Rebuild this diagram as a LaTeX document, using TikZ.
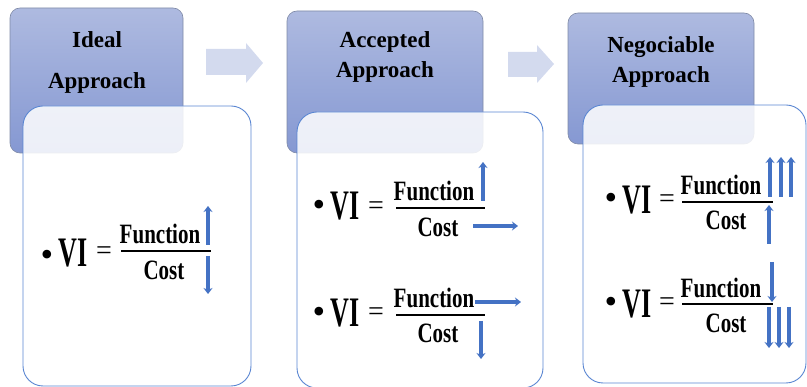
\documentclass[tikz,border=0pt]{standalone}
\usepackage{fontspec}
\usepackage{graphicx}
\setmainfont{Liberation Serif}
\usetikzlibrary{arrows.meta}
\definecolor{hdtop}{HTML}{AEBAE0}
\definecolor{hdbot}{HTML}{8598D2}
\definecolor{hdline}{HTML}{7F8AA6}
\definecolor{bxline}{HTML}{5A86D2}
\definecolor{arr}{HTML}{4472C4}
\definecolor{blk}{HTML}{D3DAEE}
\newcommand{\cnd}[1]{\scalebox{0.75}[1]{#1}}
\tikzset{
  header/.style={draw=hdline, line width=0.6pt, rounded corners=10pt, top color=hdtop, bottom color=hdbot},
  card/.style={draw=bxline, line width=0.9pt, rounded corners=20pt, fill=white, fill opacity=0.85},
  htext/.style={font=\fontsize{23}{30}\selectfont\bfseries, align=center, inner sep=0pt},
  ftext/.style={font=\fontsize{28}{28}\selectfont\bfseries, inner sep=0pt},
  vitext/.style={font=\fontsize{42}{42}\selectfont\bfseries, inner sep=0pt},
  eqtext/.style={font=\fontsize{28}{28}\selectfont, inner sep=0pt},
  bultext/.style={font=\fontsize{36}{36}\selectfont, inner sep=0pt},
  varrow/.style={draw=arr, line width=3.4pt, -{Stealth[length=6pt,width=9pt]}},
  fbar/.style={line width=1.8pt},
  blockarrow/.style={fill=blk, draw=none}
}
\begin{document}
\begin{tikzpicture}[x=1pt,y=-1pt]
\useasboundingbox (0,0) rectangle (807,387);
% headers
\draw[header] (10,8) rectangle (183,153);
\draw[header] (287,11) rectangle (483,153);
\draw[header] (568,13) rectangle (754,144);
% block arrows
\fill[blockarrow] (206,49) -- (246,49) -- (246,43) -- (263,63) -- (246,83) -- (246,75) -- (206,75) -- cycle;
\fill[blockarrow] (508,52) -- (537,52) -- (537,45) -- (554,64) -- (537,83) -- (537,77) -- (508,77) -- cycle;
% cards
\draw[card] (23,106) rectangle (251,386);
\draw[card] (297,112) rectangle (543,388);
\draw[card] (583,105) rectangle (806,383);
% header texts
\node[htext, font=\fontsize{23}{41}\selectfont\bfseries] (h1) at (97,62) {Ideal\\Approach};
\node[htext] (h2) at (385,57) {Accepted\\Approach};
\node[htext] (h3) at (661,62) {Negociable\\Approach};

% ---- formula 1 (ideal)
\node[bultext] (b1) at (47,258) {\textbullet};
\node[vitext] (v1) at (73,253) {\scalebox{0.62}[1]{VI}};
\node[eqtext] (e1) at (104,253) {=};
\node[ftext] (f1) at (160,234) {\cnd{Function}};
\node[ftext] (c1) at (164,270) {\cnd{Cost}};
\draw[fbar] (121,251) -- (211,251);
\draw[varrow] (208,245) -- (208,206);
\draw[varrow] (208,256) -- (208,294);

% ---- formula 2a (accepted)
\node[bultext] (b2) at (319,208) {\textbullet};
\node[vitext] (v2) at (345,206) {\scalebox{0.62}[1]{VI}};
\node[eqtext] (e2) at (376,208) {=};
\node[ftext] (f2) at (434,191) {\cnd{Function}};
\node[ftext] (c2) at (438,227) {\cnd{Cost}};
\draw[fbar] (396,208) -- (485,208);
\draw[varrow] (483,201) -- (483,162);
\draw[varrow] (473,226) -- (518,226);

% ---- formula 2b
\node[bultext] (b3) at (319,315) {\textbullet};
\node[vitext] (v3) at (345,313) {\scalebox{0.62}[1]{VI}};
\node[eqtext] (e3) at (376,314) {=};
\node[ftext] (f3) at (434,298) {\cnd{Function}};
\node[ftext] (c3) at (438,333) {\cnd{Cost}};
\draw[fbar] (396,315) -- (485,315);
\draw[varrow] (475,302) -- (521,302);
\draw[varrow] (481,321) -- (481,359);

% ---- formula 3a (negociable)
\node[bultext] (b4) at (611,201) {\textbullet};
\node[vitext] (v4) at (637,200) {\scalebox{0.62}[1]{VI}};
\node[eqtext] (e4) at (667,201) {=};
\node[ftext] (f4) at (721,185) {\cnd{Function}};
\node[ftext] (c4) at (726,220) {\cnd{Cost}};
\draw[fbar] (682,202) -- (773,202);
\draw[varrow] (770,197) -- (770,157);
\draw[varrow] (781,197) -- (781,157);
\draw[varrow] (791,197) -- (791,157);
\draw[varrow] (769,244) -- (769,205);

% ---- formula 3b
\node[bultext] (b5) at (611,305) {\textbullet};
\node[vitext] (v5) at (637,304) {\scalebox{0.62}[1]{VI}};
\node[eqtext] (e5) at (667,304) {=};
\node[ftext] (f5) at (721,288) {\cnd{Function}};
\node[ftext] (c5) at (726,323) {\cnd{Cost}};
\draw[fbar] (682,304) -- (773,304);
\draw[varrow] (772,262) -- (772,302);
\draw[varrow] (769,307) -- (769,348);
\draw[varrow] (779,307) -- (779,348);
\draw[varrow] (789,307) -- (789,348);
\end{tikzpicture}
\end{document}
